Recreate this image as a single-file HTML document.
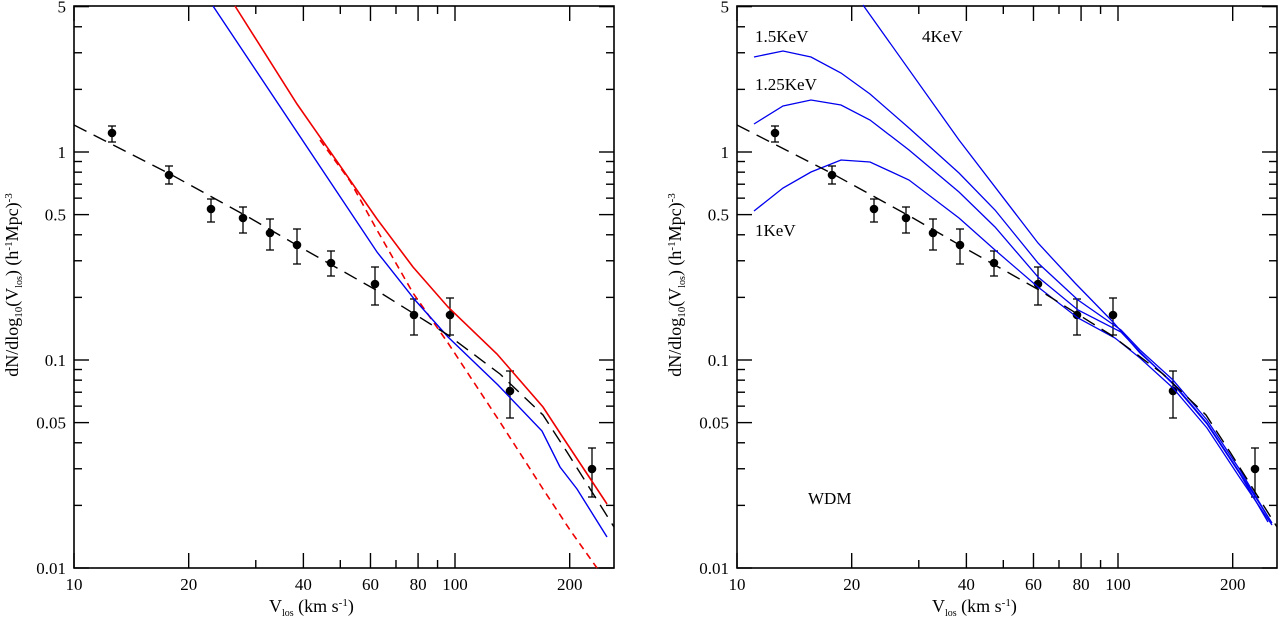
<!DOCTYPE html>
<html><head><meta charset="utf-8"><style>
html,body{margin:0;padding:0;background:#fff;}
svg{display:block;font-family:"Liberation Serif",serif;}
</style></head><body>
<svg id="s" width="1280" height="620" viewBox="0 0 1280 620" xmlns="http://www.w3.org/2000/svg">
<g id="L"></g><g id="R"></g>
<!-- left curves -->
<polyline fill="none" stroke="#e00" stroke-width="1.6" points="235,6 297,104 343,170 377,219 413,267 448,307 497,354 543,407 560,433 607,504"/>
<polyline fill="none" stroke="#e00" stroke-width="1.6" stroke-dasharray="7,5" points="320,140 350,181 377,230 413,293 448,343 500,422 543,489 570,530 597,568"/>
<polyline fill="none" stroke="#00e" stroke-width="1.4" points="213,6 377,252 415,300 448,337 498,385 542,431 560,467 577,489 607,537"/>
<polyline fill="none" stroke="#000" stroke-width="1.4" stroke-dasharray="14,8" points="74,125 170,174 250,218 300,247 376,290 448,335 500,374 543,415 567,452 614,527"/>
<!-- right curves -->
<polyline fill="none" stroke="#00e" stroke-width="1.3" points="863,5 959,140 1038,243 1075,283 1113,322 1140,353 1173,383 1207,423 1240,473 1272,523"/>
<polyline fill="none" stroke="#00e" stroke-width="1.3" points="754,57 783,51 811,57 841,73 870,94 909,128 959,173 995,210 1038,263 1078,300 1121,330 1140,350 1173,380 1207,420 1240,470 1270,520"/>
<polyline fill="none" stroke="#00e" stroke-width="1.3" points="754,124 783,106 811,100 841,105 870,120 909,150 959,192 995,227 1038,277 1078,310 1121,332 1140,352 1173,384 1207,424 1240,474 1268,522"/>
<polyline fill="none" stroke="#00e" stroke-width="1.3" points="754,211 783,188 811,172 841,160 870,162 909,180 959,218 995,250 1038,287 1078,318 1115,338 1140,358 1173,388 1207,428 1240,478 1272,525"/>
<polyline fill="none" stroke="#000" stroke-width="1.4" stroke-dasharray="14,8" points="737,125 833,174 913,218 963,247 1039,290 1111,335 1163,374 1206,415 1230,452 1277,527"/>
<g font-size="17" fill="#000">
<text x="755" y="42">1.5KeV</text><text x="922" y="42">4KeV</text>
<text x="755" y="90">1.25KeV</text><text x="755" y="236">1KeV</text>
<text x="808" y="504">WDM</text>
</g>
</svg>
<script>
var NS="http://www.w3.org/2000/svg";
function el(p,t,a,txt){var e=document.createElementNS(NS,t);for(var k in a)e.setAttribute(k,a[k]);if(txt!==undefined)e.textContent=txt;p.appendChild(e);return e;}
var TOP=6,BOT=568,DEC=208,XDEC=381;
function Y(v){return 152-DEC*Math.log10(v);}
function panel(g,x0,x1,pts){
  var X=function(v){return x0+XDEC*Math.log10(v/10);};
  el(g,'rect',{x:x0,y:TOP,width:x1-x0,height:BOT-TOP,fill:'none',stroke:'#000','stroke-width':1.6});
  var yt=[];for(var d=-2;d<=-1;d++)for(var m=1;m<=9;m++)yt.push(m*Math.pow(10,d));yt.push(1,2,3,4,5);
  var ylab={"0.01":"0.01","0.05":"0.05","0.1":"0.1","0.5":"0.5","1":"1","5":"5"};
  yt.forEach(function(v){var y=Y(v);if(y<TOP-1||y>BOT+1)return;var key=String(+v.toPrecision(3));var big=ylab[key]!==undefined;var l=big?15:8;
    el(g,'line',{x1:x0,y1:y,x2:x0+l,y2:y,stroke:'#000','stroke-width':1.4});
    el(g,'line',{x1:x1,y1:y,x2:x1-l,y2:y,stroke:'#000','stroke-width':1.4});
    if(big)el(g,'text',{x:x0-8,y:y+6,'text-anchor':'end','font-size':17},ylab[key]);});
  var xt=[10,20,30,40,50,60,70,80,90,100,200];var xl={10:1,20:1,40:1,60:1,80:1,100:1,200:1};
  xt.forEach(function(v){var x=X(v);var big=xl[v];var l=big?15:8;
    el(g,'line',{x1:x,y1:BOT,x2:x,y2:BOT-l,stroke:'#000','stroke-width':1.4});
    el(g,'line',{x1:x,y1:TOP,x2:x,y2:TOP+l,stroke:'#000','stroke-width':1.4});
    if(big)el(g,'text',{x:x,y:BOT+22,'text-anchor':'middle','font-size':17},String(v));});
  var cx=(x0+x1)/2;
  var t=el(g,'text',{x:cx-75,y:BOT+44,'font-size':18});
  t.innerHTML='V<tspan font-size="10" dy="4">los</tspan><tspan dy="-4"> (km  s</tspan><tspan font-size="11" dy="-6">-1</tspan><tspan dy="6">)</tspan>';
  var yl=el(g,'text',{transform:'translate('+(x0-56)+',285) rotate(-90)','text-anchor':'middle','font-size':18});
  yl.innerHTML='dN/dlog<tspan font-size="11" dy="4">10</tspan><tspan dy="-4">(V</tspan><tspan font-size="10" dy="4">los</tspan><tspan dy="-4">)  (h</tspan><tspan font-size="11" dy="-6">-1</tspan><tspan dy="6">Mpc)</tspan><tspan font-size="11" dy="-6">-3</tspan>';
  pts.forEach(function(p){var x=p[0]+x0-74;
    el(g,'line',{x1:x,y1:p[2],x2:x,y2:p[3],stroke:'#000','stroke-width':1.3});
    el(g,'line',{x1:x-4,y1:p[2],x2:x+4,y2:p[2],stroke:'#000','stroke-width':1.3});
    el(g,'line',{x1:x-4,y1:p[3],x2:x+4,y2:p[3],stroke:'#000','stroke-width':1.3});
    el(g,'circle',{cx:x,cy:p[1],r:4.3,fill:'#000'});});
}
var pts=[[112,133,126,142],[169,175,166,184],[211,209,199,222],[243,218,207,233],[270,233,219,250],[297,245,229,264],[331,263,251,276],[375,284,267,305],[414,315,299,335],[450,315,298,335],[510,391,371,418],[592,469,448,497]];
panel(document.getElementById('L'),74,614,pts);
panel(document.getElementById('R'),737,1277,pts);
</script>
</body></html>
